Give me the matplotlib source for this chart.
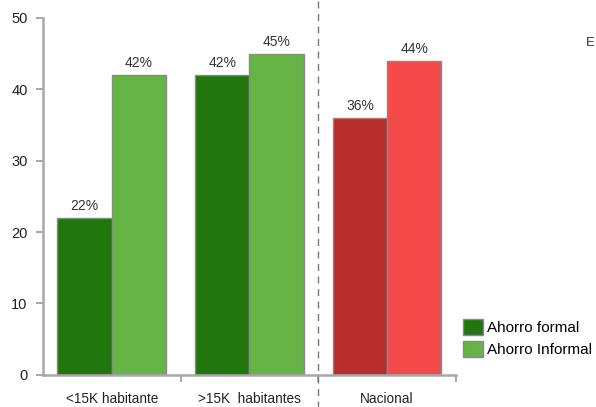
import matplotlib.pyplot as plt
import numpy as np
from matplotlib.patches import Patch

plt.rcParams['font.family'] = ['Liberation Sans', 'DejaVu Sans']

# Datos
categorias = ['<15K habitante', '>15K  habitantes', 'Nacional']
ahorro_formal = [22, 42, 36]
ahorro_informal = [42, 45, 44]
etiquetas_formal = ['22%', '42%', '36%']
etiquetas_informal = ['42%', '45%', '44%']

color_formal = ['#21760e', '#21760e', '#b92c2c']
color_informal = ['#66b445', '#66b445', '#f44a4a']

fig = plt.figure(figsize=(5.96, 4.07), dpi=100)
ax = fig.add_axes([0.072, 0.079, 0.693, 0.877])

x = np.arange(len(categorias))
ancho = 0.395
b1 = ax.bar(x, ahorro_formal, width=-ancho, align='edge', color=color_formal,
            edgecolor='#8a8a8a', linewidth=1)
b2 = ax.bar(x, ahorro_informal, width=ancho, align='edge', color=color_informal,
            edgecolor='#8a8a8a', linewidth=1)

for barras, etiquetas in [(b1, etiquetas_formal), (b2, etiquetas_informal)]:
    for b, t in zip(barras, etiquetas):
        ax.text(b.get_x() + b.get_width() / 2, b.get_height() + 0.7, t,
                ha='center', va='bottom', fontsize=10, color='#333333')

ax.set_xlim(-0.5, 2.5)
ax.set_ylim(0, 50)
ax.set_yticks(range(0, 51, 10))
ax.set_xticks(x)
ax.set_xticklabels(categorias)
ax.set_xticks([0.5, 1.5, 2.5], minor=True)
ax.tick_params(axis='x', which='major', length=0, pad=12, labelsize=9.8, labelcolor='#222222')
ax.tick_params(axis='x', which='minor', length=5, color='#9a9a9a', width=1.2)
ax.tick_params(axis='y', length=5, color='#9a9a9a', width=1.2, labelsize=10.5,
               labelcolor='#222222', pad=6)

for s in ['top', 'right']:
    ax.spines[s].set_visible(False)
for s in ['left', 'bottom']:
    ax.spines[s].set_color('#a8a8a8')
    ax.spines[s].set_linewidth(1.8)

# linea divisoria discontinua
ax.plot([1.5, 1.5], [-0.1, 1.1], transform=ax.get_xaxis_transform(), clip_on=False,
        color='#777777', linestyle=(0, (5, 4)), linewidth=1)

handles = [Patch(facecolor='#21760e', edgecolor='#8a8a8a', label='Ahorro formal'),
           Patch(facecolor='#66b445', edgecolor='#8a8a8a', label='Ahorro Informal')]
fig.legend(handles=handles, loc='upper left', bbox_to_anchor=(0.766, 0.232),
           frameon=False, fontsize=11, handlelength=1.3, handleheight=1.3,
           labelspacing=0.35, handletextpad=0.3, borderaxespad=0)

fig.text(0.983, 0.895, 'E', fontsize=9.5, color='#333333', ha='left', va='center')

fig.savefig('out.png', dpi=100)
